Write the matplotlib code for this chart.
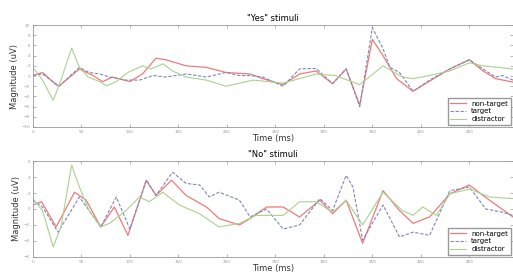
import numpy as np
import matplotlib.pyplot as plt

# "Yes" stimuli - time (ms) and magnitude (uV)
yes_nt_t = [0, 10, 24, 27, 48, 62, 72, 82, 100, 113, 127, 137, 158, 179, 199, 224, 237, 258, 275, 292,
            309, 323, 337, 350, 361, 375, 392, 409, 430, 450, 464, 477, 495]
yes_nt_v = [0.1, 0.7, -1.7, -2.0, 1.4, 0.1, -1.1, -0.2, -1.1, 0.4, 3.5, 3.2, 2.0, 1.7, 0.7, 0.4, -0.5, -1.7, 0.4, 1.0,
            -1.5, 1.4, -5.7, 7.2, 4.0, -0.5, -3.0, -1.0, 1.4, 3.2, 1.0, -0.5, -1.2]
yes_t_t = [0, 10, 27, 48, 58, 69, 79, 96, 110, 124, 137, 158, 179, 199, 213, 224, 237, 258, 275, 292,
           309, 323, 337, 350, 361, 368, 378, 392, 409, 430, 450, 464, 477, 484, 495]
yes_t_v = [0.1, 0.4, -2.0, 1.7, 0.7, 0.4, -0.2, -0.8, -0.8, 0.1, -0.2, 0.4, -0.2, 0.7, 0.1, 0.1, -0.2, -2.0, 1.4, 1.5,
           -1.5, 1.4, -6.0, 9.5, 5.4, 1.7, 0.7, -3.0, -0.8, 1.4, 3.2, 1.4, -0.2, 0.1, -0.8]
yes_d_t = [0, 10, 21, 29, 40, 48, 57, 69, 76, 86, 98, 113, 122, 134, 144, 158, 179, 199, 227, 258, 292,
           312, 337, 361, 381, 392, 409, 430, 450, 464, 495]
yes_d_v = [1.7, -0.8, -4.8, -0.8, 5.5, 1.7, -0.2, -1.1, -1.9, -1.1, 0.7, 2.0, 1.4, 2.4, 1.0, -0.2, -0.8, -2.0, -0.8, -1.4, 0.4,
           0.1, -1.7, 2.0, -0.2, -0.5, 0.1, 1.0, 2.6, 2.0, 1.4]

# "No" stimuli
no_nt_t = [0, 9, 24, 43, 55, 70, 84, 98, 117, 127, 143, 158, 179, 192, 213, 224, 241, 258, 275, 296,
           309, 323, 340, 361, 378, 392, 409, 430, 450, 464, 495]
no_nt_v = [0.5, 0.9, -2.25, 2.1, 1.1, -2.25, 0.25, -3.3, 3.6, 1.7, 3.6, 1.7, 0.25, -1.2, -2.0, -1.2, 0.25, 0.25, -1.0, 1.1,
           -0.6, 1.1, -4.3, 2.3, -0.2, -1.8, -1.0, 1.9, 3.0, 1.7, -1.0]
no_t_t = [0, 10, 26, 48, 70, 86, 100, 117, 127, 144, 158, 172, 182, 192, 213, 224, 241, 258, 275, 296,
          309, 323, 330, 340, 361, 378, 392, 409, 430, 450, 467, 484, 495]
no_t_v = [1.1, 0.25, -2.9, 1.5, -2.25, 1.5, -2.5, 3.6, 1.7, 4.6, 3.2, 3.0, 1.5, 2.1, 1.1, -1.0, 0.0, -2.5, -2.0, 1.3,
          -0.2, 4.2, 2.75, -3.9, 0.5, -3.5, -2.9, -3.3, 2.3, 2.75, 0.0, -0.4, -0.8]
no_d_t = [0, 10, 21, 29, 40, 48, 58, 70, 79, 96, 110, 120, 134, 151, 172, 192, 213, 230, 241, 258, 275, 292,
          309, 323, 340, 361, 381, 392, 402, 416, 430, 450, 471, 495]
no_d_v = [1.3, -0.2, -4.75, -2.25, 5.5, 2.75, -0.2, -2.25, -1.8, -0.2, 1.5, 0.9, 2.1, 0.5, -0.6, -2.25, -1.8, -0.8, -0.8, -0.8, 0.9, 0.9,
          -0.4, 1.1, -2.0, 2.1, -0.2, -0.8, 0.25, -0.8, 1.9, 2.5, 1.5, 1.3]

xticks = [0, 50, 100, 150, 200, 250, 300, 350, 400, 450]

c_nt = '#ee7a7a'
c_t = '#7f88b8'
c_d = '#a8d28e'

fig = plt.figure(figsize=(5.13, 2.73), dpi=100)
ax1 = fig.add_axes([0.064, 0.535, 0.936, 0.373])
ax2 = fig.add_axes([0.064, 0.059, 0.936, 0.351])

panels = [
    (ax1, '"Yes" stimuli', yes_nt_t, yes_nt_v, yes_t_t, yes_t_v, yes_d_t, yes_d_v, (-10, 10), range(-10, 11, 2)),
    (ax2, '"No" stimuli', no_nt_t, no_nt_v, no_t_t, no_t_v, no_d_t, no_d_v, (-6, 6), range(-6, 7, 2)),
]

for ax, title, nt_t, nt_v, t_t, t_v, d_t, d_v, ylim, yt in panels:
    ax.plot(nt_t, nt_v, color=c_nt, lw=0.9, label='non-target')
    ax.plot(t_t, t_v, color=c_t, lw=0.8, ls='--', dashes=(3, 1.5), label='target')
    ax.plot(d_t, d_v, color=c_d, lw=0.8, label='distractor')
    ax.set_xlim(0, 495)
    ax.set_ylim(*ylim)
    ax.set_xticks(xticks)
    ax.set_yticks(list(yt))
    ax.tick_params(direction='in', length=2, width=0.5, labelsize=3, colors='#999999',
                   top=True, right=True, pad=2)
    for s in ax.spines.values():
        s.set_color('#999999')
        s.set_linewidth(0.6)
    ax.set_title(title, fontsize=6, pad=3)
    ax.set_xlabel('Time (ms)', fontsize=6, labelpad=0, color='#333333')
    ax.set_ylabel('Magnitude (uV)', fontsize=6, labelpad=2, color='#333333')
    ax.legend(loc='lower right', fontsize=5, frameon=True, fancybox=False,
              edgecolor='#999999', handlelength=2.2, borderpad=0.4, labelspacing=0.25,
              borderaxespad=0.3, framealpha=1)

fig.savefig('out.png', dpi=100)
